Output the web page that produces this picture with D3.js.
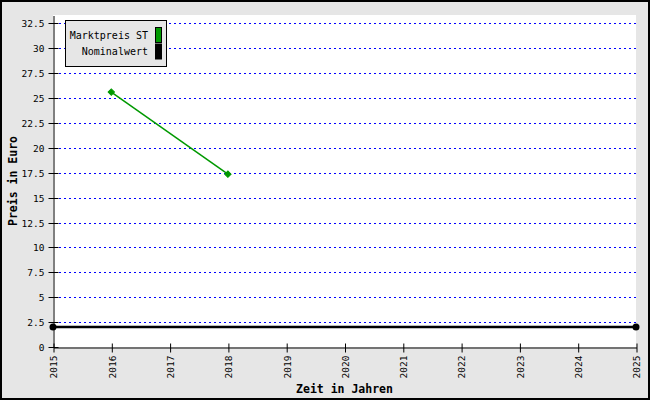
<!DOCTYPE html>
<html>
<head>
<meta charset="utf-8">
<script src="https://cdn.jsdelivr.net/npm/d3@7"></script>
<style>
  html, body { margin: 0; padding: 0; background: #fff; }
  svg { display: block; }
  text { font-family: "DejaVu Sans Mono", "Liberation Mono", monospace; }
</style>
</head>
<body>
<div id="chart"></div>
<script>
// ---- data ----
const xTickYears = [2015, 2016, 2017, 2018, 2019, 2020, 2021, 2022, 2023, 2024, 2025];
const yTickValues = [0, 2.5, 5, 7.5, 10, 12.5, 15, 17.5, 20, 22.5, 25, 27.5, 30, 32.5];
const yTickLabels = ["0", "2.5", "5", "7.5", "10", "12.5", "15", "17.5", "20", "22.5", "25", "27.5", "30", "32.5"];
const marketYears = [2016, 2018];
const marketValues = [25.6, 17.35];
const nominalYears = [2015, 2025];
const nominalValues = [2, 2];
const seriesNames = ["Marktpreis ST", "Nominalwert"];
const seriesColors = ["#009900", "#000000"];
const xTitle = "Zeit in Jahren";
const yTitle = "Preis in Euro";

// ---- layout ----
const W = 650, H = 400;
const plot = { left: 53, right: 636, top: 15, bottom: 347 };

const svg = d3.select("#chart").append("svg").attr("width", W).attr("height", H);

// background + border
svg.append("rect").attr("x", 0).attr("y", 0).attr("width", W).attr("height", H).attr("fill", "#e6e6e6");
svg.append("rect").attr("x", 1).attr("y", 1).attr("width", W - 2).attr("height", H - 2)
  .attr("fill", "none").attr("stroke", "#000").attr("stroke-width", 2);

// plot area
svg.append("rect").attr("x", plot.left).attr("y", plot.top)
  .attr("width", plot.right - plot.left).attr("height", plot.bottom - plot.top).attr("fill", "#fff");

const x = d3.scaleLinear().domain([2015, 2025]).range([plot.left, plot.right]);
const y = d3.scaleLinear().domain([0, 33.34]).range([plot.bottom, plot.top]);

// grid lines
svg.append("g").selectAll("line").data(yTickValues.filter(v => v > 0)).join("line")
  .attr("x1", plot.left + 1).attr("x2", plot.right)
  .attr("y1", d => Math.round(y(d)) + 0.5).attr("y2", d => Math.round(y(d)) + 0.5)
  .attr("stroke", "#0000ff").attr("stroke-width", 1).attr("stroke-dasharray", "2,3");

// y axis
const yAxis = d3.axisLeft(y).tickValues(yTickValues)
  .tickFormat((d, i) => yTickLabels[i]).tickSizeInner(5).tickSizeOuter(0).tickPadding(4);
const gy = svg.append("g").attr("transform", `translate(${plot.left + 0.5},0.5)`).call(yAxis);
gy.select(".domain").attr("stroke", "#000");
gy.selectAll(".tick line").attr("x1", -5).attr("x2", 5).attr("stroke", "#000");
gy.selectAll(".tick text").attr("font-size", 9.5).attr("fill", "#000")
  .attr("font-family", '"DejaVu Sans Mono", monospace');
gy.selectAll(".tick").attr("transform", d => `translate(0,${Math.round(y(d))})`);

// x axis
const xAxis = d3.axisBottom(x).tickValues(xTickYears).tickFormat(d3.format("d"))
  .tickSizeInner(5).tickSizeOuter(0).tickPadding(4);
const gx = svg.append("g").attr("transform", `translate(0.5,${plot.bottom + 0.5})`).call(xAxis);
gx.select(".domain").attr("stroke", "#000");
gx.selectAll(".tick line").attr("y1", -4).attr("y2", 5).attr("stroke", "#000");
gx.selectAll(".tick text")
  .attr("font-size", 9.5).attr("fill", "#000")
  .attr("font-family", '"DejaVu Sans Mono", monospace')
  .attr("transform", "rotate(-90)")
  .attr("text-anchor", "end").attr("x", -8).attr("y", 0).attr("dy", "0.35em");

// axis titles
svg.append("text").attr("x", (plot.left + plot.right) / 2).attr("y", 393)
  .attr("text-anchor", "middle").attr("font-size", 11.5).attr("font-weight", "bold").text(xTitle);
svg.append("text").attr("transform", `translate(17,${(plot.top + plot.bottom) / 2}) rotate(-90)`)
  .attr("text-anchor", "middle").attr("font-size", 11.5).attr("font-weight", "bold").text(yTitle);

// nominal line
const nomData = nominalYears.map((d, i) => [d, nominalValues[i]]);
svg.append("path").datum(nomData)
  .attr("d", d3.line().x(d => x(d[0])).y(d => y(d[1])))
  .attr("fill", "none").attr("stroke", seriesColors[1]).attr("stroke-width", 2.5);
svg.append("g").selectAll("circle").data(nomData).join("circle")
  .attr("cx", d => x(d[0])).attr("cy", d => y(d[1])).attr("r", 3.5).attr("fill", seriesColors[1]);

// market line
const mktData = marketYears.map((d, i) => [d, marketValues[i]]);
svg.append("path").datum(mktData)
  .attr("d", d3.line().x(d => x(d[0])).y(d => y(d[1])))
  .attr("fill", "none").attr("stroke", seriesColors[0]).attr("stroke-width", 1.5);
svg.append("g").selectAll("path").data(mktData).join("path")
  .attr("d", d3.symbol().type(d3.symbolSquare).size(20))
  .attr("transform", d => `translate(${x(d[0])},${y(d[1])}) rotate(45)`)
  .attr("fill", seriesColors[0]).attr("stroke", seriesColors[0]).attr("stroke-width", 1);

// legend
const lg = svg.append("g");
lg.append("rect").attr("x", 65.5).attr("y", 20.5).attr("width", 101).attr("height", 46)
  .attr("fill", "#e6e6e6").attr("stroke", "#000");
seriesNames.forEach((name, i) => {
  const cy = 35 + i * 16.5;
  lg.append("text").attr("x", 148).attr("y", cy).attr("dy", "0.35em")
    .attr("text-anchor", "end").attr("font-size", 10).attr("fill", "#000").text(name);
  lg.append("rect").attr("x", 155.5).attr("y", cy - 7.5).attr("width", 6).attr("height", 15)
    .attr("fill", seriesColors[i]).attr("stroke", "#000");
});
</script>
</body>
</html>
